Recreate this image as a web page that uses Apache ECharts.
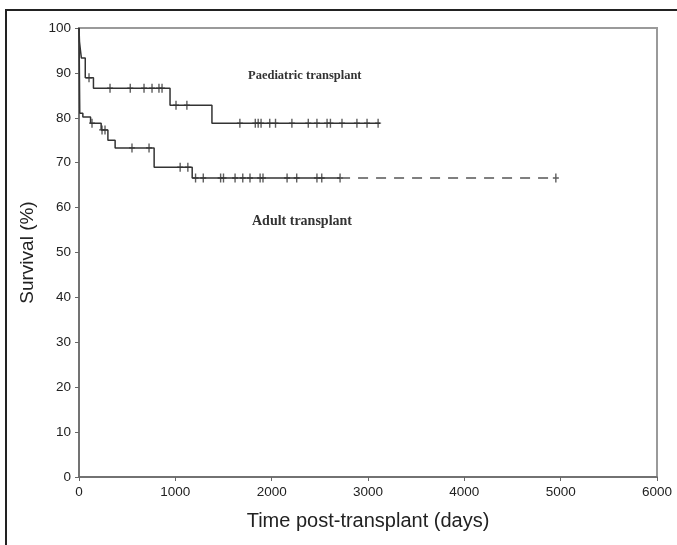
<!DOCTYPE html>
<html>
<head>
<meta charset="utf-8">
<script src="https://cdn.jsdelivr.net/npm/echarts@6/dist/echarts.min.js"></script>
<style>
  html, body { margin: 0; padding: 0; background: #fff; }
  .frame { position: absolute; left: 5px; top: 9px; width: 680px; height: 545px;
           border-top: 2px solid #222; border-left: 2px solid #222; }
  #chart { position: absolute; left: 0; top: 0; width: 677px; height: 545px; }
</style>
</head>
<body>
<div class="frame"></div>
<div id="chart"></div>
<script>
// Kaplan-Meier steps: [day, survival %]
var paedSteps = [[0, 100], [5, 97], [15, 95], [25, 93.3], [65, 88.9], [150, 86.6], [945, 82.8], [1380, 78.8], [3125, 78.8]];
var adultSteps = [[0, 100], [8, 81], [40, 80.2], [120, 78.8], [230, 77.3], [300, 75.0], [375, 73.3], [780, 69.0], [1175, 66.6], [2710, 66.6]];
var adultTail = [[2710, 66.6], [4950, 66.6]];

// censored patients: [day, survival %]
var paedCensored = [[104, 88.9], [322, 86.6], [532, 86.6], [675, 86.6], [758, 86.6], [830, 86.6], [862, 86.6],
  [1007, 82.8], [1120, 82.8], [1670, 78.8], [1830, 78.8], [1860, 78.8], [1890, 78.8], [1980, 78.8], [2040, 78.8],
  [2210, 78.8], [2380, 78.8], [2470, 78.8], [2575, 78.8], [2610, 78.8], [2730, 78.8], [2885, 78.8], [2990, 78.8], [3105, 78.8]];
var adultCensored = [[135, 78.8], [239, 77.3], [270, 77.3], [550, 73.3], [727, 73.3], [1050, 69.0], [1130, 69.0],
  [1210, 66.6], [1290, 66.6], [1470, 66.6], [1500, 66.6], [1620, 66.6], [1700, 66.6], [1775, 66.6], [1880, 66.6],
  [1910, 66.6], [2160, 66.6], [2260, 66.6], [2470, 66.6], [2520, 66.6], [2710, 66.6], [4950, 66.6]];

var tick = 'path://M2,0H3.2V3.4H5.2V4.6H3.2V8H2V4.6H0V3.4H2Z';
var ink = '#333';

var chart = echarts.init(document.getElementById('chart'));
chart.setOption({
  animation: false,
  grid: { left: 79, top: 28, right: 20, bottom: 68, show: true, borderColor: '#9a9a9a', borderWidth: 2 },
  xAxis: {
    type: 'value', min: 0, max: 6000, interval: 1000,
    name: 'Time post-transplant (days)', nameLocation: 'middle', nameGap: 34,
    nameTextStyle: { fontFamily: 'Liberation Sans', fontSize: 20, color: '#222' },
    axisLine: { lineStyle: { color: '#666', width: 1.5 } },
    axisTick: { show: true, length: 4, lineStyle: { color: '#666' } },
    axisLabel: { fontFamily: 'Liberation Sans', fontSize: 13.5, color: '#222', margin: 8,
                 formatter: function (v) { return String(v); } },
    splitLine: { show: false }
  },
  yAxis: {
    type: 'value', min: 0, max: 100, interval: 10,
    name: 'Survival (%)', nameLocation: 'middle', nameGap: 38, nameRotate: 90,
    nameTextStyle: { fontFamily: 'Liberation Sans', fontSize: 19, color: '#222' },
    axisLine: { show: true, lineStyle: { color: '#666', width: 1.5 } },
    axisTick: { show: true, length: 4, lineStyle: { color: '#666' } },
    axisLabel: { fontFamily: 'Liberation Sans', fontSize: 13.5, color: '#222', margin: 8 },
    splitLine: { show: false }
  },
  graphic: [
    { type: 'text', left: 248, top: 69, style: { text: 'Paediatric transplant', font: 'bold 12.5px "Liberation Serif"', fill: '#333' } },
    { type: 'text', left: 252, top: 214, style: { text: 'Adult transplant', font: 'bold 14px "Liberation Serif"', fill: '#333' } }
  ],
  series: [
    { type: 'line', step: 'end', data: paedSteps, showSymbol: false, lineStyle: { color: ink, width: 1.5 } },
    { type: 'line', step: 'end', data: adultSteps, showSymbol: false, lineStyle: { color: ink, width: 1.5 } },
    { type: 'line', data: adultTail, showSymbol: false, lineStyle: { color: '#555', width: 1.5, type: [10, 8] } },
    { type: 'scatter', data: paedCensored, symbol: tick, symbolSize: [6, 9], itemStyle: { color: ink } },
    { type: 'scatter', data: adultCensored, symbol: tick, symbolSize: [6, 9], itemStyle: { color: ink } }
  ]
});
</script>
</body>
</html>
